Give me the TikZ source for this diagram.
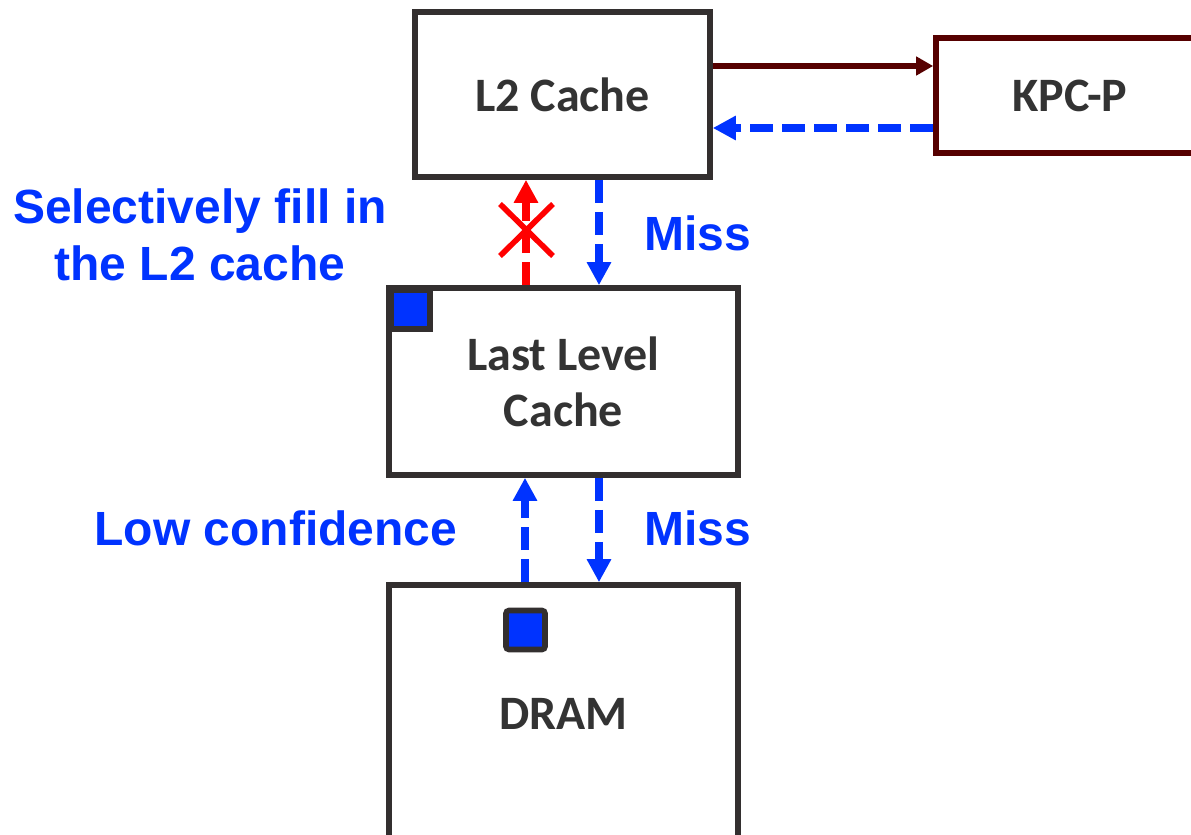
\documentclass[tikz,border=0pt]{standalone}
\usepackage{fontspec}
\setmainfont{Carlito}
\newfontfamily\arialfont{Liberation Sans}
\usetikzlibrary{arrows.meta}
\definecolor{boxgray}{HTML}{332F2F}
\definecolor{txtgray}{HTML}{333333}
\definecolor{hintblue}{HTML}{0033FF}
\definecolor{darkmaroon}{HTML}{560000}

\begin{document}
\begin{tikzpicture}[x=0.5pt,y=-0.5pt,
  box/.style={draw=boxgray, line width=2.8pt, fill=white, text=txtgray, align=center, inner sep=0pt,
    font=\fontsize{24}{28}\selectfont\bfseries},
  blk/.style={draw=boxgray, line width=2.8pt, fill=hintblue, minimum size=19.5pt, inner sep=0pt},
  note/.style={text=hintblue, align=center, font=\arialfont\fontsize{24}{28.5}\selectfont\bfseries},
  dasharrow/.style={line width=4pt, dash pattern=on 11.5pt off 4.5pt, -{Triangle[width=11.5pt,length=11.5pt]}},
  reqarrow/.style={darkmaroon, line width=3pt, -{Triangle[width=9pt,length=8.5pt]}}]
\useasboundingbox (0,0) rectangle (1191,835);

% boxes
\node[box, minimum width=147.5pt, minimum height=82.5pt] (l2) at (562.5,94.5) {L2 Cache};
\node[box, draw=darkmaroon, minimum width=134pt, minimum height=57.5pt] (kpc) at (1070,95.5) {KPC-P};
\node[box, minimum width=174.5pt, minimum height=93.5pt] (llc) at (563.5,381.5) {Last Level\\Cache};
\node[box, minimum width=174.5pt, minimum height=129pt] (dram) at (563.5,714) {DRAM};

% blocks
\node[blk] (llcblk) at (410.5,309.5) {};
\node[blk, rounded corners=1.5pt] (dramblk) at (525.5,630) {};

% L2 <-> KPC-P
\draw[reqarrow] (l2.east |- 0,66) -- (kpc.west |- 0,66);
\draw[dasharrow, hintblue] (kpc.west |- 0,128) -- (l2.east |- 0,128);

% L2 <-> LLC
\draw[dasharrow, red] (llc.north -| 526,0) -- (l2.south -| 526,0);
\draw[red, line width=2.8pt] (500,204) -- (553,256) (500,256) -- (553,204);
\draw[dasharrow, hintblue] (l2.south -| 599,0) -- (llc.north -| 599,0);

% LLC <-> DRAM
\draw[dasharrow, hintblue] (dram.north -| 525,0) -- (llc.south -| 525,0);
\draw[dasharrow, hintblue] (llc.south -| 599,0) -- (dram.north -| 599,0);

% labels
\node[note] (fill) at (200,235) {Selectively fill in\\the L2 cache};
\node[note] (miss1) at (698,233) {Miss};
\node[note] (lowconf) at (276,528) {Low confidence};
\node[note] (miss2) at (698,528) {Miss};
\end{tikzpicture}
\end{document}
